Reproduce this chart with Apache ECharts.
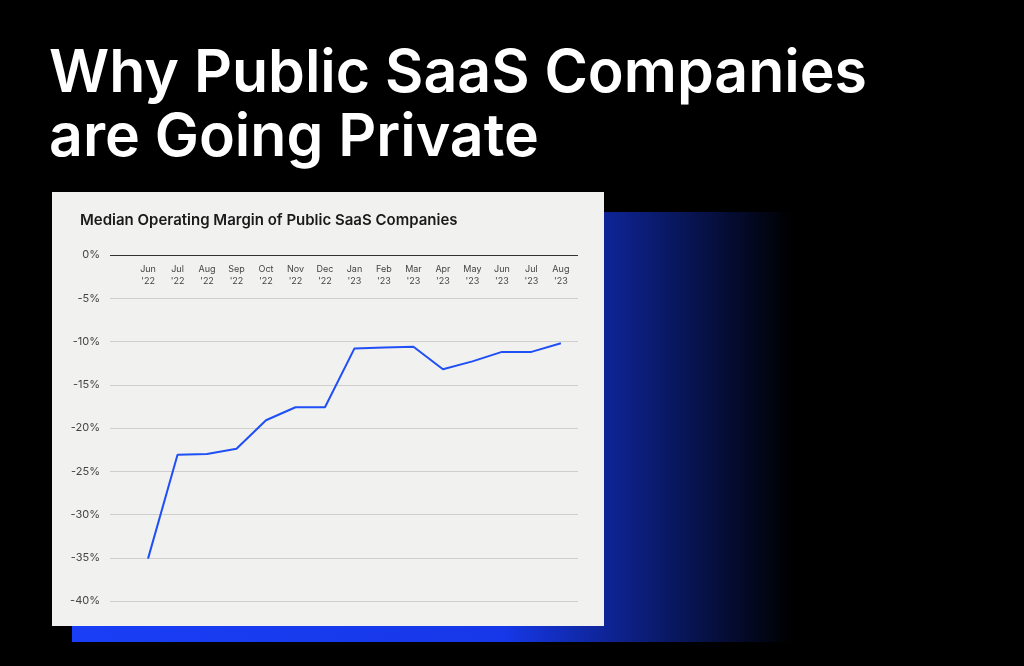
<!DOCTYPE html>
<html><head><meta charset="utf-8">
<script src="https://cdn.jsdelivr.net/npm/echarts@6/dist/echarts.min.js"></script>
<style>html,body{margin:0;background:#000}#c{width:1024px;height:666px}</style>
</head><body><div id="c"></div>
<script>
const categories = ["Jun\n'22","Jul\n'22","Aug\n'22","Sep\n'22","Oct\n'22","Nov\n'22","Dec\n'22","Jan\n'23","Feb\n'23","Mar\n'23","Apr\n'23","May\n'23","Jun\n'23","Jul\n'23","Aug\n'23"];
const margins = [-35.1,-23.1,-23.0,-22.4,-19.1,-17.6,-17.6,-10.8,-10.7,-10.6,-13.2,-12.3,-11.2,-11.2,-10.2];
const yTicks = [0,-5,-10,-15,-20,-25,-30,-35,-40];

const chart = echarts.init(document.getElementById('c'));
chart.setOption({
  backgroundColor:'#000',
  animation:false,
  graphic:[
    {type:'rect',shape:{x:72,y:212,width:720,height:430},z:-2,
     style:{fill:new echarts.graphic.LinearGradient(0,0,1,0,[{offset:0,color:'#1a3ef5'},{offset:0.6,color:'#1638e8'},{offset:0.78,color:'#0c1f80'},{offset:1,color:'#000'}])}},
    {type:'rect',shape:{x:52,y:192,width:552,height:434},z:-1,style:{fill:'#f1f1f0'}},
    {type:'text',left:49,top:42,style:{text:'Why Public SaaS Companies\nare Going Private',fill:'#fff',font:'600 59px Inter, sans-serif',lineHeight:64}},
    {type:'text',left:80,top:213,style:{text:'Median Operating Margin of Public SaaS Companies',fill:'#1a1a1a',font:'600 15px Inter, sans-serif'}}
  ],
  grid:{left:110,right:446,top:255,bottom:65},
  xAxis:{type:'value',position:'top',min:-1.29,max:14.58,
    axisLine:{show:false},axisTick:{show:false},splitLine:{show:false},
    axisLabel:{inside:true,customValues:categories.map((c,i)=>i),formatter:v=>categories[v]||'',
      color:'#444',fontSize:9,lineHeight:12,margin:8,fontFamily:'Inter, sans-serif'}},
  yAxis:{type:'value',min:-40,max:0,interval:5,
    axisLine:{show:false},axisTick:{show:false},
    axisLabel:{formatter:'{value}%',color:'#444',fontSize:11,margin:10,fontFamily:'Inter, sans-serif'},
    splitLine:{lineStyle:{color:'#cfcfcf',width:1}}},
  series:[
    {type:'line',data:margins.map((v,i)=>[i,v]),symbol:'none',lineStyle:{color:'#1f4ff5',width:2},
     markLine:{silent:true,symbol:'none',label:{show:false},lineStyle:{color:'#333',width:1.2,type:'solid'},data:[{yAxis:0}]}}
  ]
});
</script></body></html>
